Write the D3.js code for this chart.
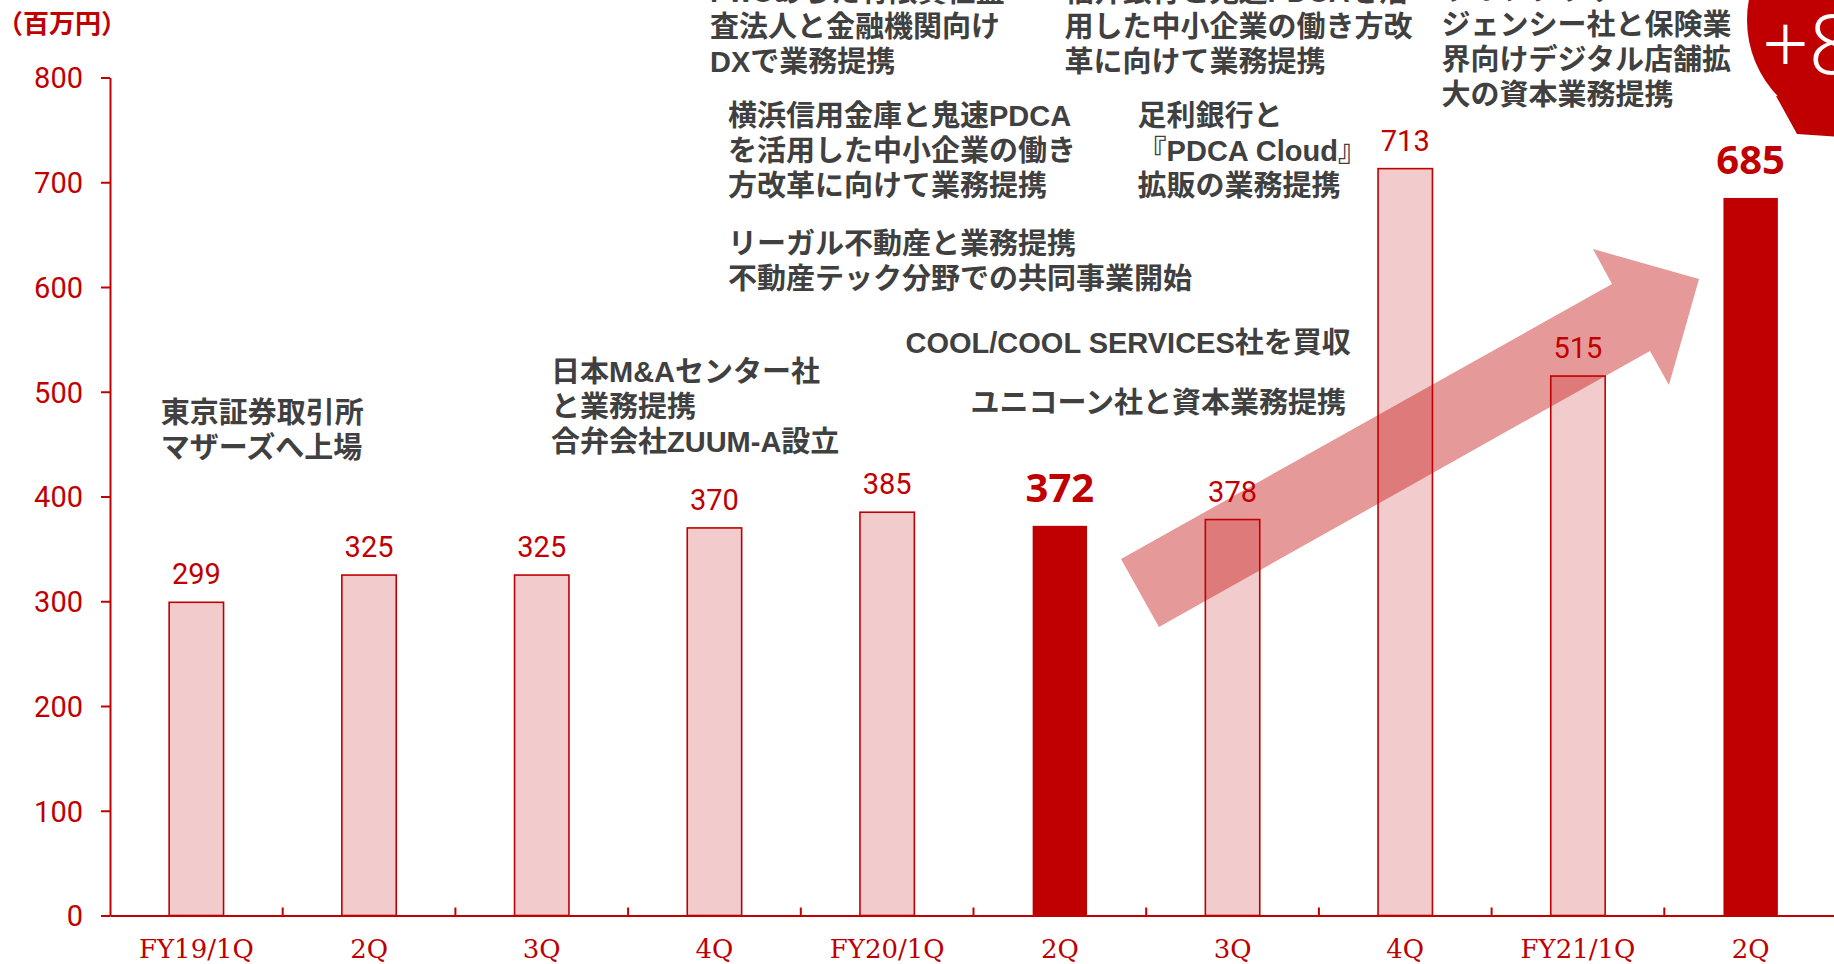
<!DOCTYPE html>
<html>
<head>
<meta charset="utf-8">
<script src="https://cdn.jsdelivr.net/npm/d3@7"></script>
<style>
  html, body { margin: 0; padding: 0; background: #ffffff; }
  svg { display: block; }
</style>
</head>
<body>
<script>
// ---------------- data ----------------
const categories = ["FY19/1Q", "2Q", "3Q", "4Q", "FY20/1Q", "2Q", "3Q", "4Q", "FY21/1Q", "2Q"];
const values = [299, 325, 325, 370, 385, 372, 378, 713, 515, 685];
const highlighted = [5, 9];
const yTicks = [0, 100, 200, 300, 400, 500, 600, 700, 800];
const unitLabel = "（百万円）";
const badgeText = "+84%";
const annotationTexts = [
  ["東京証券取引所", "マザーズへ上場"],
  ["日本M&Aセンター社", "と業務提携", "合弁会社ZUUM-A設立"],
  ["PwCあらた有限責任監", "査法人と金融機関向け", "DXで業務提携"],
  ["横浜信用金庫と鬼速PDCA", "を活用した中小企業の働き", "方改革に向けて業務提携"],
  ["リーガル不動産と業務提携", "不動産テック分野での共同事業開始"],
  ["福井銀行と鬼速PDCAを活", "用した中小企業の働き方改", "革に向けて業務提携"],
  ["足利銀行と", "『PDCA Cloud』", "拡販の業務提携"],
  ["COOL/COOL SERVICES社を買収"],
  ["ユニコーン社と資本業務提携"],
  ["ライフプラザ・エー", "ジェンシー社と保険業", "界向けデジタル店舗拡", "大の資本業務提携"]
];

// ---------------- layout ----------------
const W = 1834, H = 964;
const plot = { left: 110, top: 77.5, bottom: 915.5, step: 172.7 };
const annotationLayout = [
  { x: 160.7, y: 412.5 },
  { x: 551, y: 371 },
  { x: 710, y: -9 },
  { x: 728, y: 115 },
  { x: 728, y: 243 },
  { x: 1064.5, y: -9 },
  { x: 1137.6, y: 115 },
  { x: 905.5, y: 342.6 },
  { x: 970.5, y: 402.7 },
  { x: 1441.5, y: -11 }
];
// growth arrow polygon, expressed in chart coordinates (category index, value)
const arrowShape = [
  [5.854, 340.3], [8.697, 602.9], [8.587, 636.3], [9.201, 607.6],
  [9.027, 506.4], [8.917, 539.0], [6.074, 275.4]
];

const RED = "#c00000";
const PINK = "#f2cccc";
const GREY = "#404040";

const svg = d3.select("body").append("svg")
  .attr("width", W).attr("height", H)
  .style("background", "#fff");

const x = d3.scaleBand()
  .domain(d3.range(categories.length))
  .range([plot.left, plot.left + plot.step * categories.length])
  .padding(0);
const xi = d3.scaleLinear()
  .domain([0, categories.length])
  .range([plot.left, plot.left + plot.step * categories.length]);
const y = d3.scaleLinear().domain([0, 800]).range([plot.bottom, plot.top]);

const barW = x.bandwidth() * 0.315;

// ---------------- annotations (behind) ----------------
const fs = 29, lh = 35;
annotationTexts.forEach((lines, i) => {
  const pos = annotationLayout[i];
  const t = svg.append("text")
    .attr("font-family", "'Liberation Sans', 'Noto Sans CJK JP', sans-serif")
    .attr("font-size", fs)
    .attr("font-weight", 700)
    .attr("fill", GREY);
  lines.forEach((ln, j) => {
    t.append("tspan")
      .attr("x", pos.x)
      .attr("y", pos.y + j * lh + fs * 0.365)
      .text(ln);
  });
});

// ---------------- bars ----------------
svg.append("g").selectAll("rect")
  .data(values)
  .join("rect")
  .attr("x", (d, i) => x(i) + (x.bandwidth() - barW) / 2)
  .attr("y", d => y(d))
  .attr("width", barW)
  .attr("height", d => y(0) - y(d))
  .attr("fill", (d, i) => highlighted.includes(i) ? RED : PINK)
  .attr("stroke", RED)
  .attr("stroke-width", (d, i) => highlighted.includes(i) ? 0 : 1.6);

// ---------------- arrow ----------------
svg.append("path")
  .attr("d", d3.line().x(p => xi(p[0])).y(p => y(p[1]))(arrowShape) + "Z")
  .attr("fill", RED)
  .attr("fill-opacity", 0.4);

// ---------------- value labels ----------------
svg.append("g").selectAll("text")
  .data(values)
  .join("text")
  .attr("x", (d, i) => x(i) + x.bandwidth() / 2)
  .attr("y", (d, i) => y(d) - (highlighted.includes(i) ? 24 : 18))
  .attr("text-anchor", "middle")
  .attr("font-family", (d, i) => highlighted.includes(i) ? "'Noto Sans', sans-serif" : "Roboto, sans-serif")
  .attr("font-size", (d, i) => highlighted.includes(i) ? 40 : 29)
  .attr("font-weight", (d, i) => highlighted.includes(i) ? 700 : 400)
  .attr("fill", RED)
  .text(d => d);

// ---------------- y axis ----------------
const yAxis = svg.append("g")
  .attr("transform", `translate(${plot.left},0)`)
  .call(d3.axisLeft(y).tickValues(yTicks).tickSize(9).tickSizeOuter(0).tickPadding(18));
yAxis.select(".domain").attr("stroke", RED).attr("stroke-width", 2);
yAxis.selectAll(".tick line").attr("stroke", RED).attr("stroke-width", 2);
yAxis.selectAll(".tick text")
  .attr("fill", RED)
  .attr("font-family", "Roboto, sans-serif")
  .attr("font-size", 29)
  .attr("dy", "0.36em");

// ---------------- x axis ----------------
const xAxis = svg.append("g")
  .attr("transform", `translate(0,${plot.bottom})`)
  .call(d3.axisBottom(x).tickSize(0).tickSizeOuter(0).tickPadding(0).tickFormat(i => categories[i]));
xAxis.select(".domain").attr("stroke", RED).attr("stroke-width", 2);
xAxis.selectAll(".tick text")
  .attr("fill", RED)
  .attr("font-family", "'DejaVu Serif', 'Liberation Serif', serif")
  .attr("font-size", 26)
  .attr("dy", null)
  .attr("y", 42.5);
// separator ticks between categories
svg.append("g").selectAll("line")
  .data(d3.range(1, categories.length))
  .join("line")
  .attr("x1", i => x(i)).attr("x2", i => x(i))
  .attr("y1", y(0)).attr("y2", y(0) - 8)
  .attr("stroke", RED).attr("stroke-width", 2);

// ---------------- unit label ----------------
svg.append("text")
  .attr("x", -3).attr("y", 33)
  .attr("font-family", "'Noto Sans CJK JP', sans-serif")
  .attr("font-size", 26)
  .attr("font-weight", 700)
  .attr("fill", RED)
  .text(unitLabel);

// ---------------- badge ----------------
const badge = svg.append("g");
badge.append("circle").attr("cx", 1857).attr("cy", 20).attr("r", 110).attr("fill", RED);
badge.append("path")
  .attr("d", "M1776,96 L1797,134 L1840,137 L1840,100 Z")
  .attr("fill", RED);
badge.append("text")
  .attr("x", 1762).attr("y", 74)
  .attr("font-family", "'Noto Sans', sans-serif")
  .attr("font-size", 82)
  .attr("font-weight", 300)
  .attr("fill", "#fff")
  .text(badgeText);
</script>
</body>
</html>
